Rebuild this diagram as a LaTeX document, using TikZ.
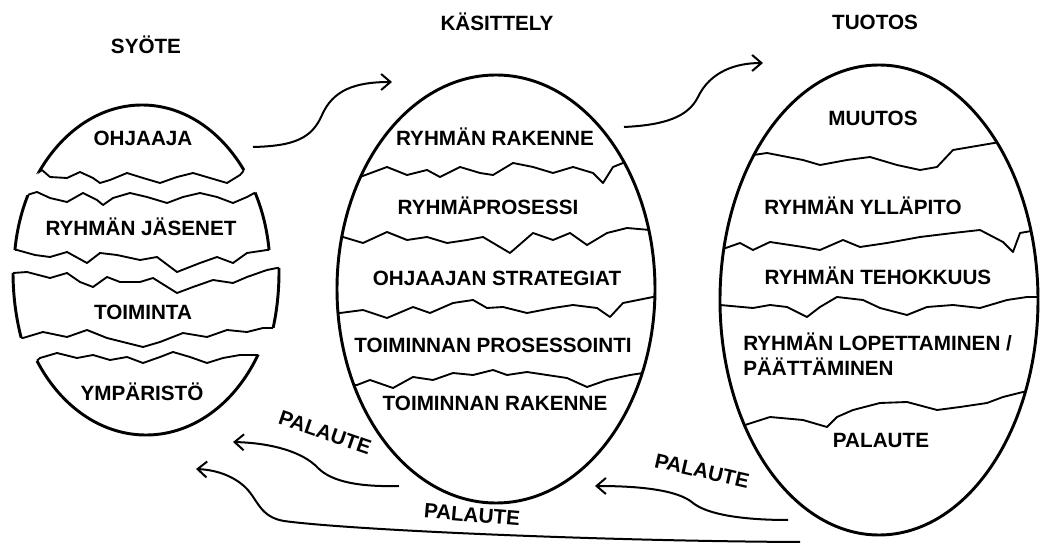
\documentclass[tikz,border=0pt]{standalone}
\usepackage{fontspec}
\setmainfont{Liberation Sans}
\usetikzlibrary{arrows.meta}
\begin{document}
\begin{tikzpicture}[x=0.75pt,y=-0.75pt,
  egg/.style={line width=2.2pt},
  crack/.style={line width=1.4pt, line join=round, line cap=round},
  flow/.style={line width=1.5pt, -{Straight Barb[length=7pt,width=12pt,line width=1.5pt]}},
  lbl/.style={font=\fontsize{15.5}{18}\selectfont\bfseries, inner sep=0pt, anchor=base},
  fb/.style={font=\fontsize{15.5}{18}\selectfont\bfseries, inner sep=0pt}]
\fill[white] (0,0) rectangle (1040,545);
\useasboundingbox (0,0) rectangle (1040,545);
% ---------- crack lines ----------
\def\LA{(20,176) -- (35,175) -- (42,170) -- (50,177) -- (67,178) -- (80,172) -- (93,178) -- (100,183) -- (110,180) -- (127,173) -- (143,178) -- (160,183) -- (177,177) -- (193,173) -- (210,178) -- (227,183) -- (240,175) -- (247,167) -- (256,160)}
\def\LB{(12,196) -- (27,195) -- (37,192) -- (50,198) -- (67,202) -- (83,193) -- (97,200) -- (103,205) -- (113,198) -- (130,193) -- (147,197) -- (167,203) -- (183,197) -- (200,193) -- (217,197) -- (233,203) -- (247,197) -- (260,190) -- (275,188)}
\def\LC{(2,250) -- (17,250) -- (35,255) -- (50,257) -- (67,252) -- (87,263) -- (100,253) -- (117,255) -- (140,260) -- (157,257) -- (177,272) -- (200,263) -- (217,257) -- (233,263) -- (247,253) -- (267,250) -- (282,250)}
\def\LD{(0,273) -- (13,273) -- (27,272) -- (50,278) -- (67,273) -- (80,282) -- (93,287) -- (107,277) -- (120,282) -- (140,282) -- (153,278) -- (177,293) -- (193,287) -- (213,280) -- (233,283) -- (247,277) -- (267,270) -- (277,268) -- (292,267)}
\def\LE{(8,338) -- (23,338) -- (43,332) -- (67,337) -- (87,330) -- (107,338) -- (127,343) -- (143,347) -- (160,342) -- (183,333) -- (207,337) -- (227,330) -- (247,332) -- (263,328) -- (278,328) -- (293,328)}
\def\LF{(17,366) -- (32,365) -- (40,358) -- (57,353) -- (77,358) -- (93,355) -- (110,360) -- (127,357) -- (143,363) -- (160,357) -- (173,352) -- (190,357) -- (207,363) -- (223,358) -- (240,355) -- (263,355) -- (278,355)}
\def\CA{(340,180) -- (360,177) -- (387,167) -- (407,175) -- (427,170) -- (440,177) -- (460,167) -- (480,173) -- (493,175) -- (513,163) -- (533,167) -- (553,173) -- (573,167) -- (593,173) -- (603,183) -- (613,167) -- (623,163) -- (643,158)}
\def\CB{(323,237) -- (343,237) -- (363,243) -- (387,232) -- (407,240) -- (427,237) -- (447,243) -- (467,240) -- (483,237) -- (510,253) -- (533,233) -- (553,240) -- (570,233) -- (587,245) -- (607,233) -- (627,228) -- (650,230) -- (670,230)}
\def\CC{(320,313) -- (340,313) -- (363,310) -- (387,318) -- (413,307) -- (430,313) -- (453,303) -- (473,300) -- (487,308) -- (503,307) -- (527,313) -- (553,308) -- (573,305) -- (597,308) -- (610,317) -- (623,303) -- (653,297) -- (673,295)}
\def\CD{(337,387) -- (357,385) -- (370,380) -- (393,388) -- (413,377) -- (433,380) -- (453,373) -- (473,375) -- (493,370) -- (507,375) -- (527,372) -- (547,375) -- (567,378) -- (587,387) -- (607,380) -- (630,375) -- (650,372)}
\def\RA{(720,158) -- (740,157) -- (767,153) -- (803,160) -- (820,165) -- (847,160) -- (870,157) -- (897,165) -- (920,170) -- (937,167) -- (953,150) -- (1000,142) -- (1020,138)}
\def\RB{(700,250) -- (720,250) -- (740,243) -- (753,250) -- (770,242) -- (803,247) -- (820,250) -- (843,240) -- (860,247) -- (887,243) -- (920,237) -- (953,233) -- (980,230) -- (1003,242) -- (1013,252) -- (1020,233) -- (1037,230) -- (1057,230)}
\def\RC{(700,305) -- (720,305) -- (753,308) -- (770,305) -- (787,307) -- (807,317) -- (820,307) -- (837,297) -- (863,300) -- (880,308) -- (907,315) -- (927,307) -- (953,305) -- (980,308) -- (1007,300) -- (1027,297) -- (1040,297) -- (1060,297)}
\def\RD{(725,427) -- (745,425) -- (770,417) -- (803,420) -- (827,427) -- (837,417) -- (853,410) -- (880,403) -- (907,402) -- (937,410) -- (960,407) -- (987,403) -- (1003,397) -- (1023,392) -- (1043,387)}
% ---------- left egg (broken) ----------
\begin{scope}
  \clip (-50,-50) -- (-50,176) -- \LA -- (330,160) -- (330,-50) -- cycle;
  \draw[egg] (142,270) ellipse [x radius=128, y radius=165];
\end{scope}
\begin{scope}
  \clip (142,270) ellipse [x radius=128, y radius=165];
  \draw[crack] \LA;
\end{scope}
\begin{scope}
  \clip (-50,600) -- (-50,196) -- \LB -- (330,188) -- (330,600) -- cycle;
  \clip (-50,-50) -- (-50,250) -- \LC -- (330,250) -- (330,-50) -- cycle;
  \draw[egg] (142,270) ellipse [x radius=128, y radius=165];
\end{scope}
\begin{scope}
  \clip (142,270) ellipse [x radius=128, y radius=165];
  \draw[crack] \LB;
  \draw[crack] \LC;
\end{scope}
\begin{scope}
  \clip (-50,600) -- (-50,273) -- \LD -- (330,267) -- (330,600) -- cycle;
  \clip (-50,-50) -- (-50,338) -- \LE -- (330,328) -- (330,-50) -- cycle;
  \draw[egg] (146,272) ellipse [x radius=133, y radius=190];
\end{scope}
\begin{scope}
  \clip (146,272) ellipse [x radius=133, y radius=190];
  \draw[crack] \LD;
  \draw[crack] \LE;
\end{scope}
\begin{scope}
  \clip (-50,600) -- (-50,366) -- \LF -- (330,355) -- (330,600) -- cycle;
  \draw[egg] (146,272) ellipse [x radius=130, y radius=163];
\end{scope}
\begin{scope}
  \clip (146,272) ellipse [x radius=130, y radius=163];
  \draw[crack] \LF;
\end{scope}
% ---------- centre egg ----------
\draw[egg] (496,289) ellipse [x radius=159, y radius=214];
\begin{scope}
  \clip (496,289) ellipse [x radius=159, y radius=214];
  \draw[crack] \CA; \draw[crack] \CB; \draw[crack] \CC; \draw[crack] \CD;
\end{scope}
% ---------- right egg ----------
\draw[egg] (879,300) ellipse [x radius=159, y radius=235];
\begin{scope}
  \clip (879,300) ellipse [x radius=159, y radius=235];
  \draw[crack] \RA; \draw[crack] \RB; \draw[crack] \RC; \draw[crack] \RD;
\end{scope}
% ---------- titles ----------
\node[lbl] (t-syote) at (146,54) {SYÖTE};
\node[lbl] (t-kas) at (497,31) {KÄSITTELY};
\node[lbl] (t-tuo) at (875,30) {TUOTOS};
% ---------- left labels ----------
\node[lbl] (l-ohj) at (143,145.5) {OHJAAJA};
\node[lbl] (l-jas) at (141,235.5) {RYHMÄN JÄSENET};
\node[lbl] (l-toi) at (143,319.5) {TOIMINTA};
\node[lbl] (l-ymp) at (142,400.5) {YMPÄRISTÖ};
% ---------- centre labels ----------
\node[lbl] (c-rak) at (495,145.5) {RYHMÄN RAKENNE};
\node[lbl] (c-pro) at (488,214.5) {RYHMÄPROSESSI};
\node[lbl] (c-str) at (497,285.5) {OHJAAJAN STRATEGIAT};
\node[lbl] (c-tpr) at (493,352.5) {TOIMINNAN PROSESSOINTI};
\node[lbl] (c-tra) at (495,410.5) {TOIMINNAN RAKENNE};
% ---------- right labels ----------
\node[lbl] (r-muu) at (873,125.5) {MUUTOS};
\node[lbl] (r-yll) at (863,214.5) {RYHMÄN YLLÄPITO};
\node[lbl] (r-teh) at (878,284.5) {RYHMÄN TEHOKKUUS};
\node[lbl, anchor=base west] (r-lop) at (743,350.5) {RYHMÄN LOPETTAMINEN /};
\node[lbl, anchor=base west] (r-paa) at (743,375.5) {PÄÄTTÄMINEN};
\node[lbl] (r-pal) at (881,447.5) {PALAUTE};
% ---------- feedback labels ----------
\node[fb, rotate=-19] (p1) at (325,433) {PALAUTE};
\node[fb, rotate=-13] (p2) at (702,471) {PALAUTE};
\node[fb, rotate=-5] (p3) at (472,515) {PALAUTE};
% ---------- arrows ----------
\coordinate (a1s) at (253,147); \coordinate (a1e) at (392,82);
\coordinate (a2s) at (624,127); \coordinate (a2e) at (763,63);
\coordinate (f1s) at (399,486); \coordinate (f1e) at (233,442);
\coordinate (f2s) at (788,520); \coordinate (f2e) at (595,486);
\coordinate (f3s) at (800,542); \coordinate (f3e) at (196,469);
\draw[flow] (a1s) .. controls (295,146) and (312,138) .. (322,115) .. controls (333,90) and (355,82) .. (a1e);
\draw[flow] (a2s) .. controls (665,125) and (688,117) .. (698,97) .. controls (710,72) and (735,63) .. (a2e);
\draw[flow] (f1s) .. controls (360,487) and (332,482) .. (318,468) .. controls (303,452) and (272,443) .. (f1e);
\draw[flow] (f2s) .. controls (745,520) and (708,515) .. (693,503) .. controls (678,490) and (640,486) .. (f2e);
\draw[flow] (f3s) .. controls (600,541) and (350,530) .. (284,521) .. controls (260,517) and (258,500) .. (246,488) .. controls (235,477) and (218,470) .. (f3e);
\end{tikzpicture}
\end{document}
